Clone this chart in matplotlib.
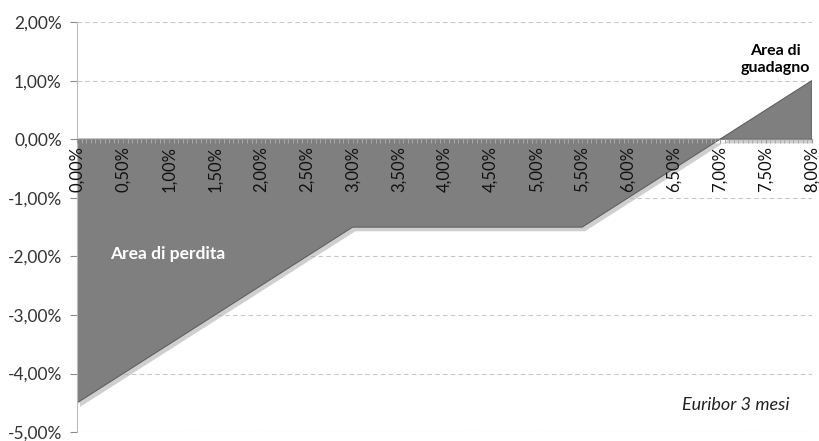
import numpy as np
import matplotlib.pyplot as plt
import matplotlib.patheffects as pe
from matplotlib.ticker import FuncFormatter, MultipleLocator

plt.rcParams["font.family"] = ["Lato", "DejaVu Sans"]

# Euribor level (%) and resulting gain/loss (%)
euribor = [0.0, 3.0, 5.5, 7.0, 8.0]
result = [-4.5, -1.5, -1.5, 0.0, 1.0]

x_ticks = np.arange(0, 8.01, 0.5)
y_ticks = np.arange(-5, 2.01, 1)


def pct(v, pos=None):
    return f"{v:.2f}%".replace(".", ",")


fig = plt.figure(figsize=(8.2, 4.41), dpi=100)
ax = fig.add_axes([0.094, 0.020, 0.896, 0.930])

poly = ax.fill_between(euribor, result, 0, color="#7f7f7f", edgecolor="#606060",
                       linewidth=0.8, zorder=2)
poly.set_path_effects([
    pe.SimplePatchShadow(offset=(2, -3), shadow_rgbFace="#b0b0b0", alpha=0.6),
    pe.Normal(),
])

ax.set_xlim(0, 8)
ax.set_ylim(-5, 2)
ax.set_yticks(y_ticks)
ax.yaxis.set_major_formatter(FuncFormatter(pct))
ax.set_xticks(x_ticks)
ax.xaxis.set_major_formatter(FuncFormatter(pct))
ax.xaxis.set_minor_locator(MultipleLocator(0.05))

ax.grid(axis="y", color="#c8c8c8", linestyle=(0, (4, 3)), linewidth=0.8)
ax.yaxis.set_zorder(1)
ax.xaxis.set_zorder(3)

for s in ["top", "right"]:
    ax.spines[s].set_visible(False)
ax.spines["bottom"].set_position(("data", 0))
ax.spines["bottom"].set_color("#8a8a8a")
ax.spines["bottom"].set_zorder(3)
ax.spines["left"].set_color("#bdbdbd")

ax.tick_params(axis="y", length=5, color="#8a8a8a", labelsize=12.5, labelcolor="#333333", pad=6)
ax.tick_params(axis="x", which="major", length=3, color="#9a9a9a", labelsize=12,
               labelcolor="#111111", labelrotation=90, pad=2)
ax.tick_params(axis="x", which="minor", length=3, color="#a9a9a9", width=0.7)
for lab in ax.get_xticklabels():
    lab.set_verticalalignment("top")
    lab.set_horizontalalignment("center")

ax.text(0.36, -1.96, "Area di perdita", color="white", fontsize=12.5,
        fontweight="bold", ha="left", va="center", zorder=5)
ax.text(7.6, 1.36, "Area di\nguadagno", color="black", fontsize=11.5,
        fontweight="bold", ha="center", va="center", linespacing=1.3, zorder=5)
ax.text(7.76, -4.54, "Euribor 3 mesi", color="#222222", fontsize=13,
        fontstyle="italic", ha="right", va="center", zorder=5)

fig.savefig("out.png", dpi=100)
